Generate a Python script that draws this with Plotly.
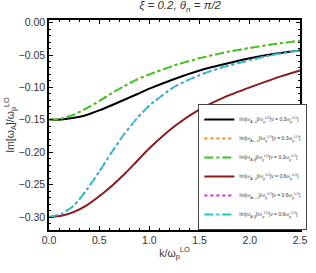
import plotly.graph_objects as go

k = [0.0, 0.125, 0.25, 0.375, 0.5, 0.625, 0.75, 0.875, 1.0, 1.25, 1.5, 1.75, 2.0, 2.25, 2.5]
black_03 = [-0.150, -0.1495, -0.1468, -0.1425, -0.1355, -0.1275, -0.119, -0.1105, -0.102, -0.087, -0.074, -0.064, -0.055, -0.048, -0.043]
orange_03 = [-0.150, -0.148, -0.142, -0.132, -0.121, -0.109, -0.098, -0.088, -0.080, -0.066, -0.055, -0.046, -0.039, -0.033, -0.028]
green_03 = [-0.150, -0.148, -0.142, -0.132, -0.121, -0.109, -0.098, -0.088, -0.080, -0.066, -0.055, -0.046, -0.039, -0.033, -0.028]
red_06 = [-0.300, -0.298, -0.292, -0.282, -0.268, -0.252, -0.234, -0.214, -0.194, -0.160, -0.134, -0.115, -0.100, -0.086, -0.074]
magenta_06 = [-0.300, -0.295, -0.282, -0.258, -0.230, -0.200, -0.172, -0.148, -0.128, -0.099, -0.081, -0.068, -0.058, -0.049, -0.043]
cyan_06 = [-0.300, -0.295, -0.282, -0.258, -0.230, -0.200, -0.172, -0.148, -0.128, -0.099, -0.081, -0.068, -0.058, -0.049, -0.043]

W = "\u03c9"
def lab(sub, nu):
    return (f"Im[{W}<sub>{sub}</sub>]/{W}<sub>p</sub><sup>LO</sup>"
            f"[\u03bd = {nu}{W}<sub>p</sub><sup>LO</sup>]")

series = [
    (black_03, lab("A,\u22a5", "0.3"), "#000000", "solid", 2.0),
    (orange_03, lab("A+,\u22a5", "0.3"), "#e8902a", "dot", 1.8),
    (green_03, lab("A,\u2225", "0.3"), "#2ecc1e", "dashdot", 1.8),
    (red_06, lab("A,\u22a5", "0.6"), "#8b1a1a", "solid", 2.0),
    (magenta_06, lab("A+,\u22a5", "0.6"), "#e020e0", "dot", 1.8),
    (cyan_06, lab("A,\u2225", "0.6"), "#20c8c8", "dashdot", 1.8),
]

fig = go.Figure()
for i, (ys, name, col, dash, w) in enumerate(series):
    fig.add_trace(go.Scatter(x=k, y=ys, mode="lines", name=name,
                             line=dict(color=col, dash=dash, width=w, shape="spline", smoothing=0.6)))

font = "Liberation Sans Narrow, Liberation Sans, Arial, sans-serif"
axis_common = dict(showline=True, linecolor="black", linewidth=1.5, mirror="allticks",
                   ticks="inside", ticklen=4, tickwidth=1, tickcolor="black",
                   showgrid=False, zeroline=False, ticklabeloverflow="allow",
                   tickfont=dict(size=10.5, color="#333333", family=font))

fig.update_xaxes(range=[0, 2.5], dtick=0.5, tickformat=".1f",
                 minor=dict(dtick=0.1, ticks="inside", ticklen=2, tickcolor="black"),
                 title=dict(text=f"k/{W}<sub>p</sub><sup>LO</sup>", font=dict(size=10.5, color="#333333", family=font), standoff=4),
                 **axis_common)
fig.update_yaxes(range=[-0.32, 0.004], dtick=0.05, tick0=0, tickformat=".2f",
                 minor=dict(dtick=0.01, ticks="inside", ticklen=2, tickcolor="black"),
                 title=dict(text=f"Im[{W}<sub>A</sub>]/{W}<sub>p</sub><sup>LO</sup>", font=dict(size=10.5, color="#333333", family=font), standoff=2),
                 **axis_common)

fig.update_layout(
    width=316, height=273,
    margin=dict(l=45, r=9, t=20, b=43),
    paper_bgcolor="white", plot_bgcolor="white",
    title=dict(text="<i>\u03be = 0.2, \u03b8<sub>n</sub> = \u03c0/2</i>", x=0.57, xanchor="center",
               y=0.995, yanchor="top", font=dict(size=11.5, color="#333333", family=font)),
    legend=dict(x=0.595, y=0.6, xanchor="left", yanchor="top",
                bgcolor="white", bordercolor="#444444", borderwidth=1,
                font=dict(size=5, color="#333333", family="Liberation Sans, Arial, sans-serif"),
                tracegroupgap=0, itemwidth=30),
    showlegend=True,
)

fig.write_html("out.html", config={"displayModeBar": False})
with open("out.html", "r", encoding="utf-8") as f:
    html = f.read()
html = html.replace("<body>", '<body style="margin:0;padding:0;overflow:hidden">', 1)
with open("out.html", "w", encoding="utf-8") as f:
    f.write(html)
